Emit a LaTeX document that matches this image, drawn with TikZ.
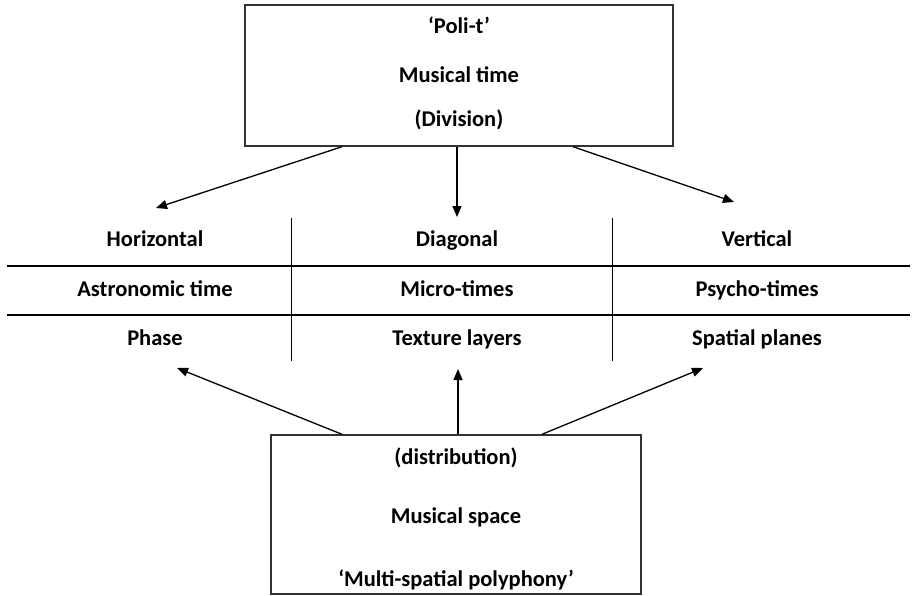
\documentclass[tikz,border=0pt]{standalone}
\usepackage{fontspec}
\setmainfont{Carlito}
\usetikzlibrary{arrows.meta}
\begin{document}
\begin{tikzpicture}[x=1pt,y=-1pt,
  box/.style={draw=black!80,line width=1.4pt,inner sep=0pt},
  lbl/.style={font=\fontsize{22.5}{26}\selectfont\bfseries,inner sep=0pt,anchor=center,text height=1.25em,text depth=0pt},
  arr/.style={line width=1.3pt,-{Triangle[length=11pt,width=9pt]}},
  rule/.style={line width=1.4pt},
  divider/.style={line width=0.9pt}]
\useasboundingbox (0,0) rectangle (912,596);
% top box
\node[box,minimum width=428pt,minimum height=141pt] (top) at (459,75.5) {};
\node[lbl] (t1) at (459,27) {‘Poli-t’};
\node[lbl] (t2) at (459,76) {Musical time};
\node[lbl] (t3) at (459,120) {(Division)};
% bottom box
\node[box,minimum width=370pt,minimum height=159pt] (bot) at (456,514.5) {};
\node[lbl] (b1) at (456,458) {(distribution)};
\node[lbl] (b2) at (456,517) {Musical space};
\node[lbl] (b3) at (456,580) {‘Multi-spatial polyphony’};
% table
\coordinate (r1l) at (7,266); \coordinate (r1r) at (910,266);
\coordinate (r2l) at (7,315); \coordinate (r2r) at (910,315);
\coordinate (d1t) at (291,218); \coordinate (d1b) at (291,361);
\coordinate (d2t) at (612,218); \coordinate (d2b) at (612,361);
\draw[rule] (r1l) -- (r1r);
\draw[rule] (r2l) -- (r2r);
\draw[divider] (d1t) -- (d1b);
\draw[divider] (d2t) -- (d2b);
\node[lbl] (h1) at (155,240) {Horizontal};
\node[lbl] (h2) at (457,240) {Diagonal};
\node[lbl] (h3) at (757,240) {Vertical};
\node[lbl] (m1) at (155,290) {Astronomic time};
\node[lbl] (m2) at (457,290) {Micro-times};
\node[lbl] (m3) at (757,290) {Psycho-times};
\node[lbl] (p1) at (155,339) {Phase};
\node[lbl] (p2) at (457,339) {Texture layers};
\node[lbl] (p3) at (757,339) {Spatial planes};
% arrows from top box
\coordinate (ta1) at (156,208);
\coordinate (ta2) at (457,217);
\coordinate (ta3) at (734,202);
\draw[arr] ([xshift=-117pt]top.south) -- (ta1);
\draw[arr] ([xshift=-2pt]top.south) -- (ta2);
\draw[arr] ([xshift=114pt]top.south) -- (ta3);
% arrows from bottom box
\coordinate (ba1) at (177,368);
\coordinate (ba2) at (458,369);
\coordinate (ba3) at (703,368);
\draw[arr] ([xshift=-114pt]bot.north) -- (ba1);
\draw[arr] ([xshift=2pt]bot.north) -- (ba2);
\draw[arr] ([xshift=86pt]bot.north) -- (ba3);
\end{tikzpicture}
\end{document}
